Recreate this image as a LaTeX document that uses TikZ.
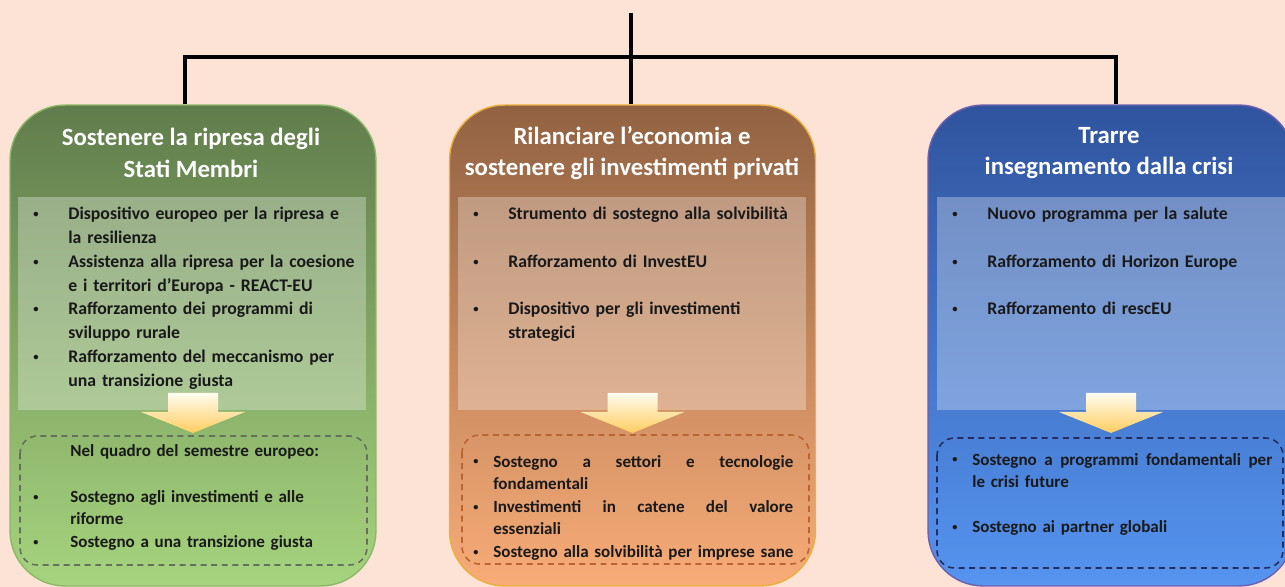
\documentclass[tikz,border=0pt]{standalone}
\usepackage{fontspec}
\usepackage{graphicx}
\setmainfont{Carlito}

\definecolor{sfondo}{RGB}{252,227,213}
\definecolor{grtop}{RGB}{96,124,76}
\definecolor{grbot}{RGB}{166,212,126}
\definecolor{grbordo}{RGB}{140,185,105}
\definecolor{grtratto}{RGB}{100,112,92}
\definecolor{ortop}{RGB}{145,98,66}
\definecolor{orbot}{RGB}{248,172,120}
\definecolor{orbordo}{RGB}{235,175,60}
\definecolor{ortratto}{RGB}{185,100,50}
\definecolor{bltop}{RGB}{48,84,158}
\definecolor{blbot}{RGB}{85,148,240}
\definecolor{blbordo}{RGB}{110,95,175}
\definecolor{bltratto}{RGB}{35,45,95}
\definecolor{arrtop}{RGB}{255,252,240}
\definecolor{arrbot}{RGB}{255,205,95}

\newcommand{\corpo}{\fontsize{10.1pt}{13.5pt}\selectfont\bfseries}
\newcommand{\corpob}{\fontsize{9.7pt}{12.9pt}\selectfont\bfseries}
\newcommand{\titolo}{\fontsize{14.1pt}{17.8pt}\selectfont\bfseries}
\newcommand{\punto}{\raisebox{0.12em}{\scalebox{0.6}{\textbullet}}}
\newcommand{\voce}[2][0.8cm]{\hangindent=#1\hangafter=1\makebox[#1][l]{\hspace{0.1cm}\punto}#2\par}
\newcommand{\vuota}{\vspace{\baselineskip}}
\newcommand{\giusta}[1]{\hbox to 6cm{#1}}
\newcommand{\frecciagiu}[1]{\shade[freccia] ([shift={(-25,47.5)}]#1.center) -- ++(50,0) -- ++(0,19) -- ++(27,0) -- ++(-52,21) -- ++(-52,-21) -- ++(27,0) -- cycle;}

\tikzset{
  pilastro/.style={rounded corners=1.1cm, minimum width=7.32cm, minimum height=9.62cm, line width=0.8pt},
  testa/.style={align=center, text=white, font=\titolo, inner sep=0pt},
  lista/.style={anchor=base west, inner sep=0pt, text width=#1, align=left, font=\corpo, text=black!90},
  lista/.default=6.8cm,
  ramo/.style={line width=2.3pt},
  freccia/.style={top color=arrtop, bottom color=arrbot},
  tratteggio/.style={dash pattern=on 3.4pt off 2.6pt, line width=0.9pt, rounded corners=0.35cm},
  pannello/.style={fill=white, fill opacity=0.3}
}

\begin{document}
\begin{tikzpicture}[x=0.02cm, y=-0.02cm]
  \clip (0,0) rectangle (1285,587);
  \fill[sfondo] (0,0) rectangle (1285,587);

  \node[pilastro, draw=grbordo, top color=grtop, bottom color=grbot] (sx) at (193,345.5) {};
  \node[pilastro, draw=orbordo, top color=ortop, bottom color=orbot] (cx) at (632.5,345.5) {};
  \node[pilastro, draw=blbordo, top color=bltop, bottom color=blbot] (dx) at (1111,345.5) {};

  \coordinate (apice) at (631,13);
  \coordinate (sbar) at (185,57);
  \coordinate (dbar) at (1116,57);
  \draw[ramo] (apice) -- (apice |- cx.north);
  \draw[ramo] (sx.north -| sbar) -- (sbar) -- (dbar) -- (dx.north -| dbar);

  \node[testa] (sxt) at (191,153) {Sostenere la ripresa degli\\Stati Membri};
  \node[testa] (cxt) at (632,153) {Rilanciare l’economia e\\sostenere gli investimenti privati};
  \node[testa] (dxt) at (1109,153) {Trarre\\insegnamento dalla crisi};

  \fill[pannello] (18,197) rectangle (366,410);
  \fill[pannello] (458,197) rectangle (806,410);
  \fill[pannello] (937,197) rectangle (1286,410);

  \node[lista] (sxl) at (28,220) {\voce{Dispositivo europeo per la ripresa e\newline la resilienza}\voce{Assistenza alla ripresa per la coesione\newline e i territori d’Europa - REACT-EU}\voce{Rafforzamento dei programmi di\newline sviluppo rurale}\voce{Rafforzamento del meccanismo per\newline una transizione giusta}};
  \node[lista] (cxl) at (468,220) {\voce{Strumento di sostegno alla solvibilità}\vuota\voce{Rafforzamento di InvestEU}\vuota\voce{Dispositivo per gli investimenti\newline strategici}};
  \node[lista] (dxl) at (947,220) {\voce{Nuovo programma per la salute}\vuota\voce{Rafforzamento di Horizon Europe}\vuota\voce{Rafforzamento di rescEU}};

  \frecciagiu{sx}
  \frecciagiu{cx}
  \frecciagiu{dx}

  \draw[tratteggio, draw=grtratto] (20,436) rectangle (367,565);
  \draw[tratteggio, draw=ortratto] (462,435) rectangle (809,564);
  \draw[tratteggio, draw=bltratto] (937,438) rectangle (1283,568);

  \node[lista, font=\corpob] (sxd) at (28,457) {\hspace{0.84cm}Nel quadro del semestre europeo:\par\vuota\voce[0.84cm]{Sostegno agli investimenti e alle\newline riforme}\voce[0.84cm]{Sostegno a una transizione giusta}};
  \node[lista=7cm, font=\corpob] (cxd) at (468,467) {\voce[0.5cm]{\giusta{Sostegno\hfill a\hfill settori\hfill e\hfill tecnologie}\newline fondamentali}\voce[0.5cm]{\giusta{Investimenti\hfill in\hfill catene\hfill del\hfill valore}\newline essenziali}\voce[0.5cm]{Sostegno alla solvibilità per imprese sane}};
  \node[lista=7cm, font=\corpob] (dxd) at (947,465) {\voce[0.5cm]{\giusta{Sostegno\hfill a\hfill programmi\hfill fondamentali\hfill per}\newline le crisi future}\vuota\voce[0.5cm]{Sostegno ai partner globali}};
\end{tikzpicture}
\end{document}
